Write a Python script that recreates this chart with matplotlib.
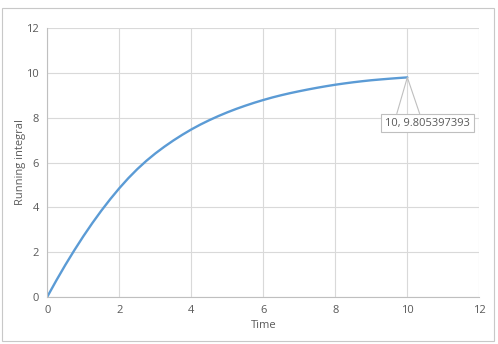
import matplotlib.pyplot as plt
from matplotlib.patches import Rectangle

# running integral (every 0.25 in time)
time = [0, 0.25, 0.5, 0.75, 1, 1.25, 1.5, 1.75, 2, 2.25, 2.5, 2.75, 3, 3.25, 3.5, 3.75, 4,
        4.25, 4.5, 4.75, 5, 5.25, 5.5, 5.75, 6, 6.25, 6.5, 6.75, 7, 7.25, 7.5, 7.75, 8,
        8.25, 8.5, 8.75, 9, 9.25, 9.5, 9.75, 10]
running = [0, 0.725, 1.418, 2.075, 2.70, 3.29, 3.845, 4.365, 4.85, 5.298, 5.705, 6.073,
           6.405, 6.705, 6.983, 7.24, 7.478, 7.695, 7.893, 8.075, 8.243, 8.398, 8.54,
           8.673, 8.795, 8.908, 9.01, 9.103, 9.188, 9.268, 9.343, 9.413, 9.478, 9.535,
           9.588, 9.635, 9.678, 9.713, 9.746, 9.777, 9.805397393]
label_text = '10, 9.805397393'

ticks = [0, 2, 4, 6, 8, 10, 12]
txt_color = '#595959'
grid_color = '#d9d9d9'

plt.rcParams['font.family'] = ['Open Sans', 'DejaVu Sans']

fig = plt.figure(figsize=(4.98, 3.44), dpi=100)
ax = fig.add_axes([0.095, 0.1375, 0.8675, 0.7802])

# chart border like excel
fig.patches.append(Rectangle((2 / 498, 3 / 344), 492 / 498, 333 / 344, transform=fig.transFigure,
                             fill=False, edgecolor='#c8c8c8', linewidth=0.8))

ax.plot(time, running, color='#5b9bd5', linewidth=1.7, solid_capstyle='round')

ax.set_xlim(0, 12)
ax.set_ylim(0, 12)
ax.set_xticks(ticks)
ax.set_yticks(ticks)
ax.grid(True, color=grid_color, linewidth=0.8)
ax.set_axisbelow(True)
for s in ['top', 'right']:
    ax.spines[s].set_visible(False)
for s in ['left', 'bottom']:
    ax.spines[s].set_color('#bfbfbf')
    ax.spines[s].set_linewidth(0.8)
ax.tick_params(length=0, labelsize=8, labelcolor=txt_color, pad=6)

ax.set_xlabel('Time', fontsize=8, color=txt_color, labelpad=3)
ax.set_ylabel('Running integral', fontsize=8, color=txt_color, labelpad=0)

# data callout on the last point
x_last, y_last = time[-1], running[-1]
ax.plot([x_last - 0.29, x_last, x_last + 0.34], [y_last - 1.61, y_last, y_last - 1.61],
        color='#bfbfbf', linewidth=0.8, clip_on=False)
ax.text(x_last + 0.56, y_last - 2.04, label_text, fontsize=8, color=txt_color,
        ha='center', va='center',
        bbox=dict(boxstyle='square,pad=0.35', facecolor='white', edgecolor='#bfbfbf', linewidth=0.8))

plt.savefig('out.png', dpi=100)
